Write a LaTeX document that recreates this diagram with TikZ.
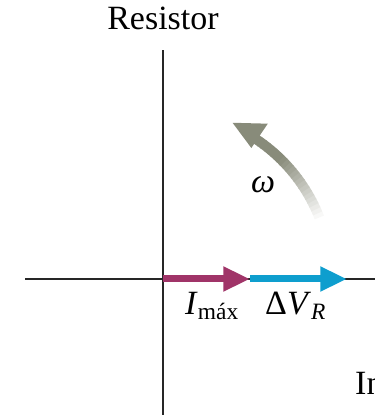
\documentclass[tikz,border=0pt]{standalone}
\usepackage{fontspec}
\setmainfont{Liberation Serif}
\usetikzlibrary{arrows.meta, positioning}

\definecolor{imaxcol}{RGB}{160,52,104}
\definecolor{vrcol}{RGB}{14,158,206}
\definecolor{spingray}{RGB}{136,139,122}

\begin{document}
\begin{tikzpicture}[x=0.03cm, y=0.03cm,
    axis/.style={line width=0.06cm, black!85},
    phasor/.style={line width=0.21cm, -{Triangle[length=0.8cm, width=0.7cm]}},
    spin/.style={line width=0.3cm},
    lbl/.style={font=\fontsize{29}{30}\selectfont, inner sep=0pt},
    sub/.style={font=\fontsize{20}{20}\selectfont}
]
    \clip (0,0) rectangle (375,419);

    % axes
    \coordinate (O) at (163,140);
    \coordinate (top) at (163,369);
    \coordinate (bot) at (163,4);
    \coordinate (left) at (25,140);
    \coordinate (right) at (375,140);
    \draw[axis] (bot) -- (top);
    \draw[axis] (left) -- (right);

    \node[lbl, anchor=base] (title) at (163,389) {Resistor};
    \node[lbl, anchor=base west] (time) at (355,24) {In};

    % phasors
    \coordinate (imaxtip) at (250,140);
    \coordinate (vrtip) at (347,140);
    \draw[phasor, vrcol] (imaxtip) -- (vrtip);
    \draw[phasor, imaxcol] (O) -- (imaxtip);

    \node[lbl, anchor=base west] (imax) at (185,104)
        {\textit{I}\raisebox{-0.3ex}{\fontsize{20}{20}\selectfont máx}};
    \node[lbl, anchor=base west] (vr) at (265,104)
        {Δ\textit{V}\raisebox{-0.3ex}{\fontsize{20}{20}\selectfont\textit{R}}};

    % rotation
    \begin{scope}[shift={(O)}]
        \foreach \a in {20,21.5,...,56}{
            \pgfmathtruncatemacro\p{min(100,(\a-20)*4)}
            \draw[spin, spingray!\p!white] (\a:5.04cm) arc[start angle=\a, end angle=\a+1.8, radius=5.04cm];
        }
        \fill[spingray] (66:5.13cm) -- (56:5.62cm) -- (56:4.74cm) -- cycle;
    \end{scope}
    \node[lbl] (omega) at (263,234) {\textit{ω}};
\end{tikzpicture}
\end{document}
